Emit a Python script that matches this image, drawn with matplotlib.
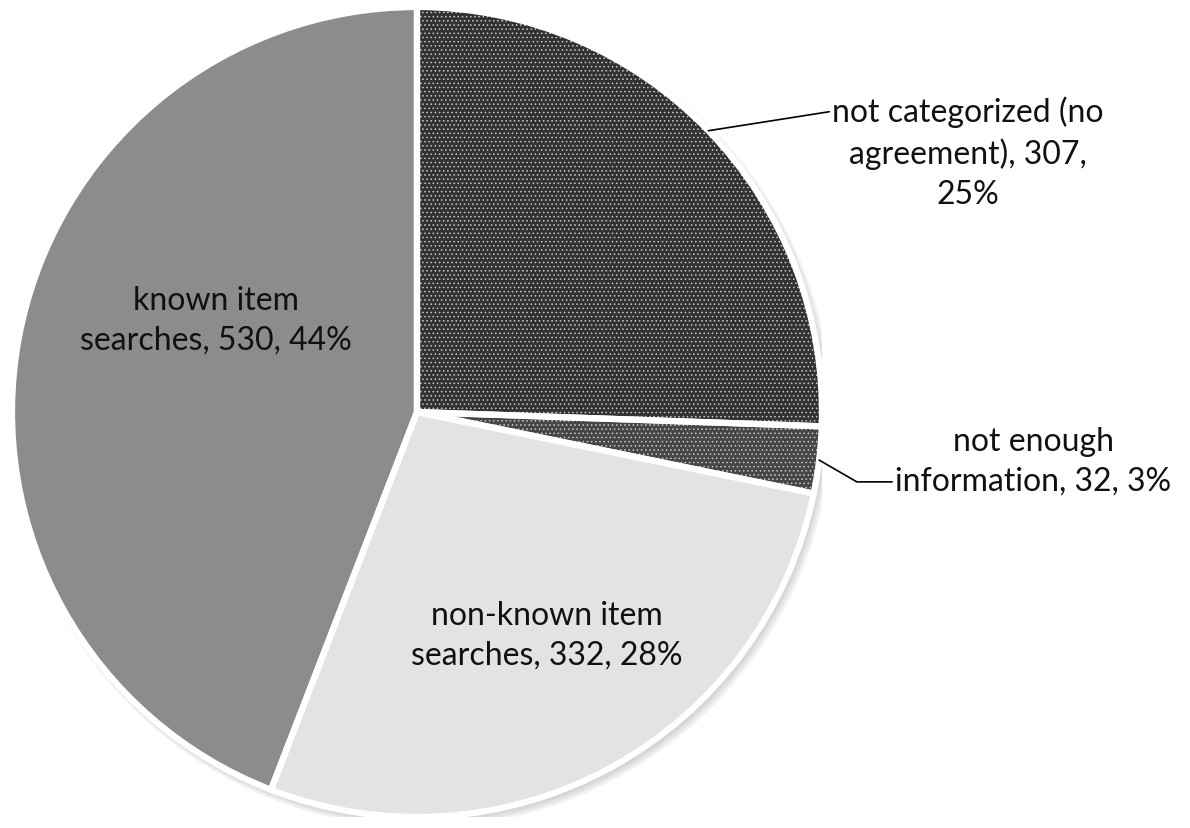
import numpy as np
import matplotlib
matplotlib.use("Agg")
import matplotlib.pyplot as plt
from matplotlib.patches import Wedge, Circle

plt.rcParams['font.family'] = ['Lato', 'DejaVu Sans']
plt.rcParams['hatch.linewidth'] = 0.6

labels = ["not categorized (no\nagreement), 307,\n25%",
          "not enough\ninformation, 32, 3%",
          "non-known item\nsearches, 332, 28%",
          "known item\nsearches, 530, 44%"]
values = [307, 32, 332, 530]
colors = ["#323232", "#464646", "#e3e3e3", "#8c8c8c"]
hatch_colors = ["#c8c8c8", "#c8c8c8", None, None]
label_pos = [(1.360, 0.642), (1.521, -0.121), (0.321, -0.551), (-0.496, 0.227)]

fig = plt.figure(figsize=(11.9, 8.29), dpi=100)
W, H = 1190, 829
cx, cy, R = 417, 413, 405
ax = fig.add_axes([(cx - R) / W, (H - cy - R) / H, 2 * R / W, 2 * R / H])
ax.set_xlim(-1, 1)
ax.set_ylim(-1, 1)
ax.set_aspect('equal')
ax.axis('off')

# soft shadow
for i in range(4):
    ax.add_patch(Circle((0.006 + 0.002 * i, -0.008 - 0.002 * i), 1.0 + 0.004 * i,
                        facecolor='black', edgecolor='none', alpha=0.05, zorder=0))
ax.add_patch(Circle((0, 0), 1.0, facecolor='white', edgecolor='none', zorder=0.5))

total = sum(values)
start = 90.0
angles = []
for v, c, hc in zip(values, colors, hatch_colors):
    sweep = v / total * 360.0
    t1, t2 = start - sweep, start
    if hc:
        ax.add_patch(Wedge((0, 0), 1.0, t1, t2, facecolor=c, edgecolor=hc,
                           hatch='....', linewidth=0, zorder=1))
    else:
        ax.add_patch(Wedge((0, 0), 1.0, t1, t2, facecolor=c, edgecolor='none', zorder=1))
    ax.add_patch(Wedge((0, 0), 1.0, t1, t2, fill=False, edgecolor='white',
                       linewidth=4.5, zorder=2))
    angles.append((t1 + t2) / 2)
    start = t1

fs = 23
ls = 1.4
for i in (2, 3):
    ax.text(*label_pos[i], labels[i], ha='center', va='center',
            fontsize=fs, color='#111111', linespacing=ls, zorder=3)

th0 = np.deg2rad(angles[0])
p0 = (np.cos(th0), np.sin(th0))
ax.annotate(labels[0], xy=p0, xytext=label_pos[0], ha='center', va='center',
            fontsize=fs, color='#111111', linespacing=ls, zorder=3,
            arrowprops=dict(arrowstyle='-', color='black', lw=1.2,
                            shrinkA=0, shrinkB=0, relpos=(0.0, 0.86)),
            annotation_clip=False)

th1 = np.deg2rad(angles[1])
p1 = (np.cos(th1), np.sin(th1))
ax.annotate(labels[1], xy=p1, xytext=label_pos[1], ha='center', va='center',
            fontsize=fs, color='#111111', linespacing=ls, zorder=3,
            arrowprops=dict(arrowstyle='-', color='black', lw=1.2,
                            shrinkA=0, shrinkB=0, relpos=(0.0, 0.2),
                            connectionstyle='angle,angleA=0,angleB=-30,rad=0'),
            annotation_clip=False)

fig.savefig("out.png", dpi=100, facecolor='white')
